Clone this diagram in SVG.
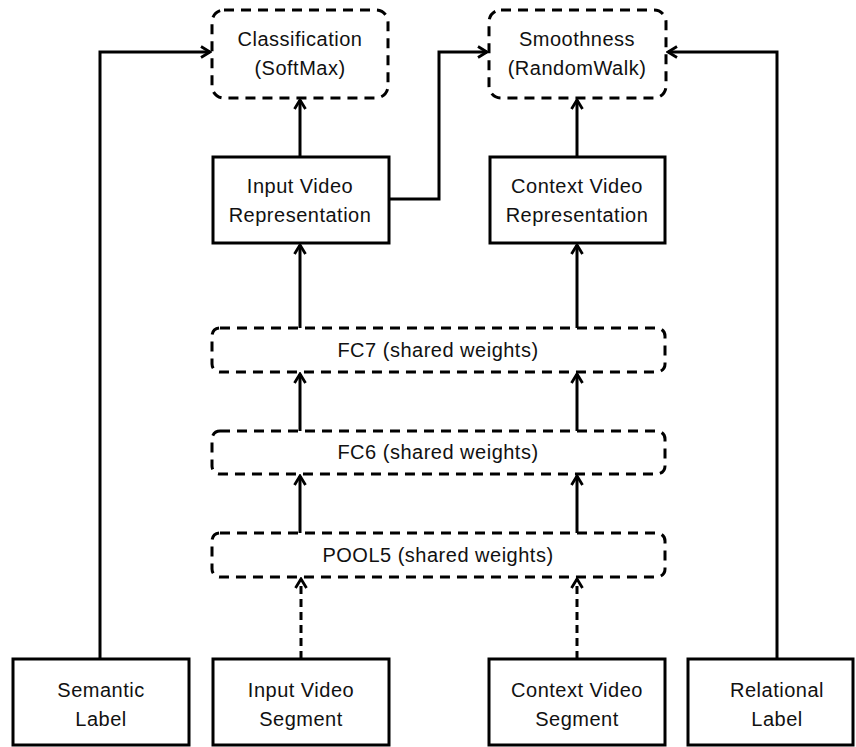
<svg xmlns="http://www.w3.org/2000/svg" width="856" height="747" viewBox="0 0 856 747">
<style>
text{font-family:"Liberation Sans",Arial,sans-serif;font-size:20px;letter-spacing:0.5px;fill:#111;text-anchor:middle}
.box{fill:#fff;stroke:#000;stroke-width:3}
.dbox{fill:#fff;stroke:#000;stroke-width:3;stroke-dasharray:10 7}
.c{fill:none;stroke:#000;stroke-width:3}
.cd{fill:none;stroke:#000;stroke-width:3;stroke-dasharray:8 5}
</style>
<defs>
<marker id="ah" viewBox="0 0 14 14" refX="11" refY="7" markerWidth="14" markerHeight="14" markerUnits="userSpaceOnUse" orient="auto">
<path d="M2,1.5 L11,7 L2,12.5" fill="none" stroke="#000" stroke-width="2.8"/>
</marker>
</defs>
<rect width="856" height="747" fill="#fff"/>
<g id="connectors">
<path class="c" d="M100,659 V52 H210" marker-end="url(#ah)"/>
<path class="c" d="M777,659 V52 H668" marker-end="url(#ah)"/>
<path class="c" d="M389,199 H439 V52 H487" marker-end="url(#ah)"/>
<path class="c" d="M300,157 V100" marker-end="url(#ah)"/>
<path class="c" d="M577,157 V100" marker-end="url(#ah)"/>
<path class="c" d="M300,328 V245" marker-end="url(#ah)"/>
<path class="c" d="M577,328 V245" marker-end="url(#ah)"/>
<path class="c" d="M300,431 V374" marker-end="url(#ah)"/>
<path class="c" d="M577,431 V374" marker-end="url(#ah)"/>
<path class="c" d="M300,533 V476" marker-end="url(#ah)"/>
<path class="c" d="M577,533 V476" marker-end="url(#ah)"/>
<path class="cd" d="M301,659 V579" marker-end="url(#ah)"/>
<path class="cd" d="M577,659 V579" marker-end="url(#ah)"/>
</g>
<g id="classification">
<rect class="dbox" x="212" y="10" width="176" height="88" rx="12"/>
<text x="300" y="46">Classification</text>
<text x="300" y="75">(SoftMax)</text>
</g>
<g id="smoothness">
<rect class="dbox" x="489" y="10" width="177" height="88" rx="12"/>
<text x="577" y="46">Smoothness</text>
<text x="577" y="75">(RandomWalk)</text>
</g>
<g id="input-rep">
<rect class="box" x="213" y="157" width="176" height="86"/>
<text x="300" y="193">Input Video</text>
<text x="300" y="222">Representation</text>
</g>
<g id="context-rep">
<rect class="box" x="490" y="157" width="175" height="86"/>
<text x="577" y="193">Context Video</text>
<text x="577" y="222">Representation</text>
</g>
<g id="fc7">
<rect class="dbox" x="212" y="328" width="453" height="44" rx="8"/>
<text x="438" y="357">FC7 (shared weights)</text>
</g>
<g id="fc6">
<rect class="dbox" x="212" y="431" width="453" height="43" rx="8"/>
<text x="438" y="459">FC6 (shared weights)</text>
</g>
<g id="pool5">
<rect class="dbox" x="212" y="533" width="453" height="44" rx="8"/>
<text x="438" y="562">POOL5 (shared weights)</text>
</g>
<g id="semantic">
<rect class="box" x="13" y="659" width="176" height="86"/>
<text x="101" y="697">Semantic</text>
<text x="101" y="726">Label</text>
</g>
<g id="input-seg">
<rect class="box" x="213" y="659" width="176" height="86"/>
<text x="301" y="697">Input Video</text>
<text x="301" y="726">Segment</text>
</g>
<g id="context-seg">
<rect class="box" x="489" y="659" width="176" height="86"/>
<text x="577" y="697">Context Video</text>
<text x="577" y="726">Segment</text>
</g>
<g id="relational">
<rect class="box" x="688" y="659" width="165" height="86"/>
<text x="777" y="697">Relational</text>
<text x="777" y="726">Label</text>
</g>
</svg>
